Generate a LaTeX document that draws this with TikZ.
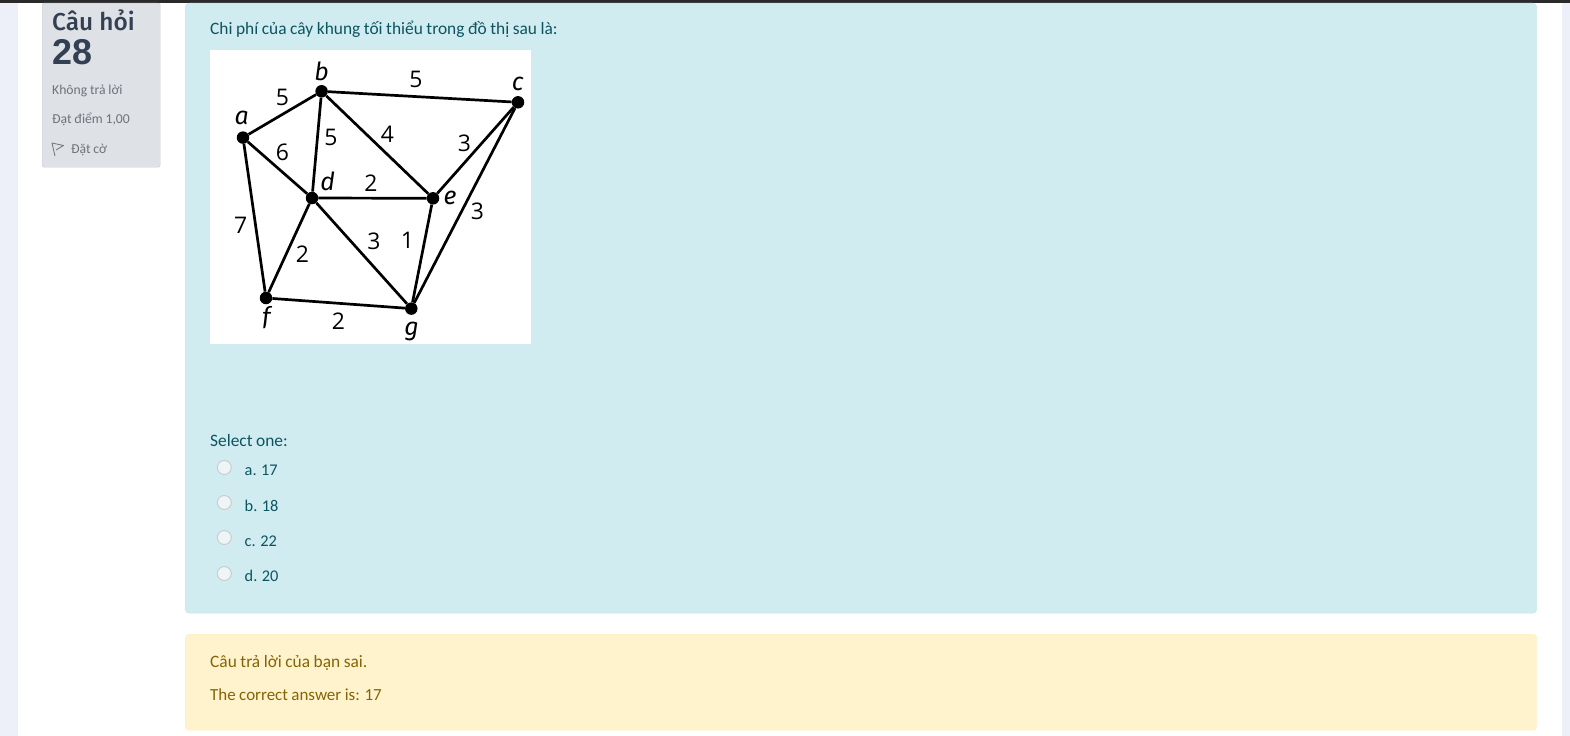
\documentclass[tikz,border=0pt]{standalone}
\usepackage{fontspec}
\usepackage{xcolor}
\setmainfont[WordSpace=0.9]{Carlito}
\newfontfamily\headfont{Liberation Sans}
\newfontfamily\titlefont[UprightFont=* Medium]{Fira Sans}
\newfontfamily\graphfont{Open Sans}
\newfontfamily\namefont{Fira Sans}
\newfontfamily\latinname{Carlito}
\usetikzlibrary{positioning}
\definecolor{pagestrip}{RGB}{237,240,248}
\definecolor{topbar}{RGB}{42,42,42}
\definecolor{infofill}{RGB}{209,236,241}
\definecolor{infoline}{RGB}{190,229,235}
\definecolor{infotext}{RGB}{12,84,96}
\definecolor{warnfill}{RGB}{255,243,205}
\definecolor{warnline}{RGB}{255,238,186}
\definecolor{warntext}{RGB}{133,100,4}
\definecolor{cardfill}{RGB}{222,226,230}
\definecolor{cardline}{RGB}{200,205,212}
\definecolor{cardtext}{RGB}{108,116,124}
\definecolor{headtext}{RGB}{51,63,82}
\tikzset{
    infotxt/.style={anchor=base west, inner sep=0pt, text=infotext, font=\fontsize{17.45}{20}\selectfont},
    answertxt/.style={infotxt, font=\fontsize{16.4}{20}\selectfont},
    warntxt/.style={anchor=base west, inner sep=0pt, text=warntext, font=\fontsize{17.45}{20}\selectfont},
    cardtxt/.style={anchor=base west, inner sep=0pt, text=cardtext, font=\fontsize{13.7}{17}\selectfont},
    radio/.style={circle, draw=black!20, fill=black!6!infofill!30!white, line width=1bp, minimum size=14bp, inner sep=0pt},
    vertex/.style={circle, fill=black, minimum size=12.5bp, inner sep=0pt},
    edge/.style={draw=black, line width=2.7bp},
    vname/.style={inner sep=0pt, font=\namefont\itshape\fontsize{25}{30}\selectfont},
    weight/.style={inner sep=0pt, font=\graphfont\fontsize{23}{28}\selectfont}
}

\begin{document}
\begin{tikzpicture}[x=1bp, y=-1bp]
    % Page background
    \fill[white] (0,0) rectangle (1570,736);
    \fill[pagestrip] (0,0) rectangle (18,736);
    \fill[pagestrip] (1562,0) rectangle (1570,736);
    \fill[topbar] (0,0) rectangle (1570,3);
    \useasboundingbox (0,0) rectangle (1570,736);

    % Question card
    \node[rectangle, draw=cardline, fill=cardfill, rounded corners=2bp, minimum width=118bp, minimum height=164bp, anchor=north west] (card) at (42,3) {};
    \node[anchor=base west, inner sep=0pt, text=headtext, font=\titlefont\fontsize{24.5}{28}\selectfont] (cardtitle) at (52,30.5) {Câu hỏi};
    \node[anchor=base west, inner sep=0pt, text=headtext, font=\headfont\bfseries\fontsize{36}{40}\selectfont] (cardnumber) at (52,65) {28};
    \node[cardtxt] (cardstate) at (52,94.5) {Không trả lời};
    \node[cardtxt] (cardmark) at (52,123.5) {Đạt điểm 1,00};
    \node[cardtxt] (cardflag) at (71,153.5) {Đặt cờ};
    \draw[cardtext, line width=.8bp, line join=round] (55,156) -- (52,143) -- (63.5,145.5) -- (56,150);

    % Question panel
    \node[rectangle, draw=infoline, fill=infofill, rounded corners=4bp, minimum width=1351.5bp, minimum height=610bp, anchor=north west] (question) at (185,3) {};
    \node[infotxt] (prompt) at (210,34.5) {Chi phí của cây khung tối thiểu trong đồ thị sau là:};

    % Graph image
    \node[rectangle, fill=white, minimum width=320.5bp, minimum height=293.5bp, anchor=north west] (sheet) at (210,50) {};
    \node[vertex] (a) at (243,137.6) {};
    \node[vertex] (b) at (321.6,91.3) {};
    \node[vertex] (c) at (518,102.3) {};
    \node[vertex] (d) at (312,198) {};
    \node[vertex] (e) at (433,198.3) {};
    \node[vertex] (f) at (266,298) {};
    \node[vertex] (g) at (411.3,308.6) {};

    \draw[edge] (a) -- (b);
    \draw[edge] (a) -- (d);
    \draw[edge] (a) -- (f);
    \draw[edge] (b) -- (c);
    \draw[edge] (b) -- (d);
    \draw[edge] (b) -- (e);
    \draw[edge] (c) -- (e);
    \draw[edge] (c) -- (g);
    \draw[edge] (d) -- (e);
    \draw[edge] (d) -- (f);
    \draw[edge] (d) -- (g);
    \draw[edge] (e) -- (g);
    \draw[edge] (f) -- (g);

    % Vertex names
    \node[vname] (namea) at (241.7,118) {a};
    \node[vname] (nameb) at (321.7,71.5) {b};
    \node[vname] (namec) at (517.7,84) {c};
    \node[vname] (named) at (327.7,181.5) {d};
    \node[vname] (namee) at (450,198) {e};
    \node[vname, font=\latinname\itshape\fontsize{28}{30}\selectfont] (namef) at (266.7,318) {f};
    \node[vname] (nameg) at (411.7,331) {g};

    % Edge weights
    \node[weight] (wab) at (282.3,97) {5};
    \node[weight] (wbc) at (416,79.6) {5};
    \node[weight] (wad) at (282.3,152.6) {6};
    \node[weight] (wbd) at (331,137) {5};
    \node[weight] (wbe) at (387.3,134.3) {4};
    \node[weight] (wce) at (464.3,143) {3};
    \node[weight] (wde) at (371,183.6) {2};
    \node[weight] (wcg) at (477.3,211) {3};
    \node[weight] (waf) at (240.7,225.6) {7};
    \node[weight] (wdg) at (374,241) {3};
    \node[weight] (weg) at (407.3,240.3) {1};
    \node[weight] (wdf) at (302.3,254) {2};
    \node[weight] (wfg) at (338.3,321.6) {2};

    % Answers
    \node[infotxt] (select) at (210,446.5) {Select one:};
    \node[radio] (radioa) at (224.3,467.5) {};
    \node[radio] (radiob) at (224.3,502.5) {};
    \node[radio] (radioc) at (224.3,537.5) {};
    \node[radio] (radiod) at (224.3,573.5) {};
    \node[answertxt] (answera) at (244.5,475.5) {a. 17};
    \node[answertxt] (answerb) at (244.5,511) {b. 18};
    \node[answertxt] (answerc) at (244.5,546) {c. 22};
    \node[answertxt] (answerd) at (244.5,581.5) {d. 20};

    % Feedback panel
    \node[rectangle, draw=warnline, fill=warnfill, rounded corners=4bp, minimum width=1351.5bp, minimum height=96bp, anchor=north west] (feedback) at (185,634) {};
    \node[warntxt] (verdict) at (210,667) {Câu trả lời của bạn sai.};
    \node[warntxt, font=\fontsize{17}{20}\selectfont] (rightanswer) at (210,700) {The correct answer is: 17};
\end{tikzpicture}
\end{document}
